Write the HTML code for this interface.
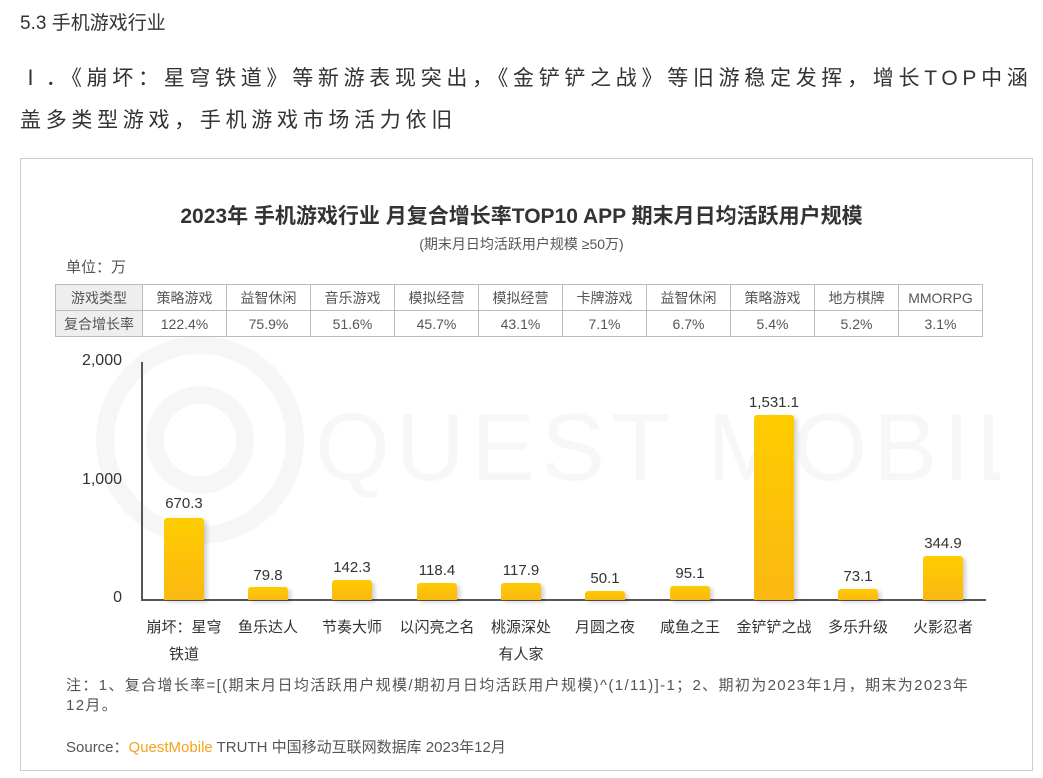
<!DOCTYPE html>
<html><head><meta charset="utf-8"><style>
body{margin:0;width:1043px;height:778px;background:#fff;font-family:"Liberation Sans","Noto Sans CJK SC",sans-serif;color:#333;position:relative;overflow:hidden}
.a{position:absolute;white-space:nowrap}
table{position:absolute;left:55px;top:284px;border-collapse:collapse;font-size:14px;color:#555}
td{border:1px solid #bbb;height:25px;text-align:center;padding:0;width:83px}
td.h{background:#eee;width:86px}
.bar{position:absolute;width:40px;background:linear-gradient(#ffcc00,#fbb812);border-radius:3px 3px 0 0;box-shadow:3px 2px 4px rgba(0,0,0,.18)}
.v{position:absolute;width:84px;text-align:center;font-size:15px;color:#333}
.c{position:absolute;width:84px;text-align:center;font-size:15px;color:#333;line-height:27px}
</style></head><body>
<div class="a" style="left:20px;top:8px;font-size:19px">5.3 手机游戏行业</div>
<div class="a" style="left:20px;top:58px;font-size:21px;line-height:42px;letter-spacing:4.7px">Ⅰ．《崩坏：星穹铁道》等新游表现突出，《金铲铲之战》等旧游稳定发挥，增长TOP中涵<br>盖多类型游戏，手机游戏市场活力依旧</div>
<div class="a" style="left:20px;top:158px;width:1011px;height:611px;border:1px solid #ccc"></div>
<svg class="a" style="left:60px;top:330px" width="940" height="330"><g fill="none" stroke="#f6f6f6" stroke-width="18"><circle cx="140" cy="110" r="95"/><circle cx="140" cy="110" r="45"/></g><text x="255" y="150" font-size="96" fill="#f7f7f7" font-family="Liberation Sans" letter-spacing="6">QUEST MOBILE</text></svg>
<div class="a" style="left:0;width:1043px;text-align:center;top:200px;font-size:21px;font-weight:bold;color:#333">2023年 手机游戏行业 月复合增长率TOP10 APP 期末月日均活跃用户规模</div>
<div class="a" style="left:0;width:1043px;text-align:center;top:234px;font-size:14px;color:#555">(期末月日均活跃用户规模 ≥50万)</div>
<div class="a" style="left:66px;top:256px;font-size:15px;color:#555">单位：万</div>
<table><tr><td class="h">游戏类型</td><td>策略游戏</td><td>益智休闲</td><td>音乐游戏</td><td>模拟经营</td><td>模拟经营</td><td>卡牌游戏</td><td>益智休闲</td><td>策略游戏</td><td>地方棋牌</td><td>MMORPG</td></tr>
<tr><td class="h">复合增长率</td><td>122.4%</td><td>75.9%</td><td>51.6%</td><td>45.7%</td><td>43.1%</td><td>7.1%</td><td>6.7%</td><td>5.4%</td><td>5.2%</td><td>3.1%</td></tr></table>
<div class="a" style="left:141px;top:362px;width:2px;height:239px;background:#555"></div>
<div class="a" style="left:141px;top:599px;width:845px;height:2px;background:#555"></div>
<div class="a" style="left:60px;width:62px;text-align:right;top:352px;font-size:16px">2,000</div>
<div class="a" style="left:60px;width:62px;text-align:right;top:471px;font-size:16px">1,000</div>
<div class="a" style="left:60px;width:62px;text-align:right;top:589px;font-size:16px">0</div>
<div class="bar" style="left:164px;top:518px;height:82px"></div><div class="v" style="left:142px;top:495px">670.3</div>
<div class="bar" style="left:248px;top:587px;height:13px"></div><div class="v" style="left:226px;top:567px">79.8</div>
<div class="bar" style="left:332px;top:580px;height:20px"></div><div class="v" style="left:310px;top:559px">142.3</div>
<div class="bar" style="left:417px;top:583px;height:17px"></div><div class="v" style="left:395px;top:562px">118.4</div>
<div class="bar" style="left:501px;top:583px;height:17px"></div><div class="v" style="left:479px;top:562px">117.9</div>
<div class="bar" style="left:585px;top:591px;height:9px"></div><div class="v" style="left:563px;top:570px">50.1</div>
<div class="bar" style="left:670px;top:586px;height:14px"></div><div class="v" style="left:648px;top:565px">95.1</div>
<div class="bar" style="left:754px;top:415px;height:185px"></div><div class="v" style="left:732px;top:394px">1,531.1</div>
<div class="bar" style="left:838px;top:589px;height:11px"></div><div class="v" style="left:816px;top:568px">73.1</div>
<div class="bar" style="left:923px;top:556px;height:44px"></div><div class="v" style="left:901px;top:535px">344.9</div>
<div class="c" style="left:142px;top:614px">崩坏：星穹<br>铁道</div>
<div class="c" style="left:226px;top:614px">鱼乐达人</div>
<div class="c" style="left:310px;top:614px">节奏大师</div>
<div class="c" style="left:395px;top:614px">以闪亮之名</div>
<div class="c" style="left:479px;top:614px">桃源深处<br>有人家</div>
<div class="c" style="left:563px;top:614px">月圆之夜</div>
<div class="c" style="left:648px;top:614px">咸鱼之王</div>
<div class="c" style="left:732px;top:614px">金铲铲之战</div>
<div class="c" style="left:816px;top:614px">多乐升级</div>
<div class="c" style="left:901px;top:614px">火影忍者</div>
<div class="a" style="left:66px;top:676px;font-size:15px;color:#555;line-height:20px;letter-spacing:1.35px">注：1、复合增长率=[(期末月日均活跃用户规模/期初月日均活跃用户规模)^(1/11)]-1；2、期初为2023年1月，期末为2023年<br>12月。</div>
<div class="a" style="left:66px;top:736px;font-size:15px;color:#555">Source：<span style="color:#f7a21b">QuestMobile</span> TRUTH 中国移动互联网数据库 2023年12月</div>
</body></html>
